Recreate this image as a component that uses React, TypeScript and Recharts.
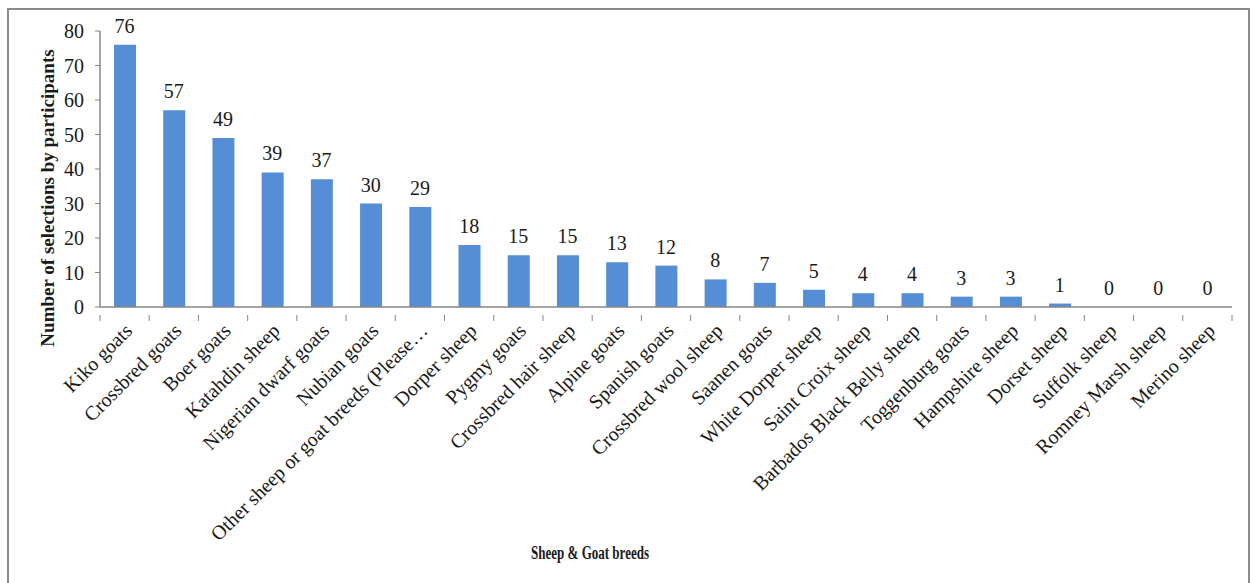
import React from 'react';
import { ComposedChart, Bar, Line, XAxis, YAxis, LabelList, Label } from 'recharts';

const breeds = [
  'Kiko goats',
  'Crossbred goats',
  'Boer goats',
  'Katahdin sheep',
  'Nigerian dwarf goats',
  'Nubian goats',
  'Other sheep or goat breeds (Please…',
  'Dorper sheep',
  'Pygmy goats',
  'Crossbred hair sheep',
  'Alpine goats',
  'Spanish goats',
  'Crossbred wool sheep',
  'Saanen goats',
  'White Dorper sheep',
  'Saint Croix sheep',
  'Barbados Black Belly sheep',
  'Toggenburg goats',
  'Hampshire sheep',
  'Dorset sheep',
  'Suffolk sheep',
  'Romney Marsh sheep',
  'Merino sheep',
];

const selections = [76, 57, 49, 39, 37, 30, 29, 18, 15, 15, 13, 12, 8, 7, 5, 4, 4, 3, 3, 1, 0, 0, 0];

const yTicks = [0, 10, 20, 30, 40, 50, 60, 70, 80];

const data = breeds.map((breed, i) => ({ breed, count: selections[i] }));

const FONT = '"Liberation Serif", "Times New Roman", serif';
const AXIS = '#868686';
const TEXT = '#1a1a1a';

const W = 1256;
const H = 583;
const M = { top: 31, right: 24, left: 40, bottom: 26 };
const Y_AXIS_W = 60;
const X_AXIS_H = 250;
const band = (W - M.left - Y_AXIS_W - M.right) / breeds.length;

// category ticks sit on the band boundaries, labels slant up-left from the centre
const BreedTick = (props: any) => {
  const { x, y, payload, index } = props;
  const left = x - band / 2;
  const isLast = index === breeds.length - 1;
  const tx = x + 4;
  const ty = y + 12;
  return (
    <g>
      <line x1={left} x2={left} y1={y} y2={y + 6} stroke={AXIS} />
      {isLast && <line x1={x + band / 2} x2={x + band / 2} y1={y} y2={y + 6} stroke={AXIS} />}
      <text
        x={tx}
        y={ty}
        textAnchor="end"
        dominantBaseline="central"
        transform={`rotate(-45, ${tx}, ${ty})`}
        fontFamily={FONT}
        fontSize={20}
        fill={TEXT}
      >
        {payload.value}
      </text>
    </g>
  );
};

const App: React.FC = () => {
  return (
    <div
      style={{
        position: 'absolute',
        left: 0,
        top: 0,
        width: W,
        height: H,
        background: '#fff',
        overflow: 'hidden',
        fontFamily: FONT,
      }}
    >
      <div
        style={{
          position: 'absolute',
          left: 7,
          top: 8,
          width: 1243,
          height: 600,
          borderLeft: '2px solid #8c8c8c',
          borderTop: '2px solid #8c8c8c',
          borderRight: '2px solid #8c8c8c',
          boxSizing: 'border-box',
        }}
      />
      <ComposedChart
        width={W}
        height={H}
        data={data}
        margin={M}
        barCategoryGap={0}
        style={{ position: 'absolute', left: 0, top: 0, fontFamily: FONT }}
      >
        <XAxis
          dataKey="breed"
          interval={0}
          height={X_AXIS_H}
          tickLine={false}
          axisLine={{ stroke: AXIS, strokeWidth: 1.5 }}
          tick={<BreedTick />}
        >
          <Label
            content={() => (
              <text
                x={590}
                y={559}
                textAnchor="middle"
                textLength={118}
                lengthAdjust="spacingAndGlyphs"
                fontFamily={FONT}
                fontSize={18}
                fontWeight="bold"
                fill={TEXT}
              >
                Sheep &amp; Goat breeds
              </text>
            )}
          />
        </XAxis>
        <YAxis
          width={Y_AXIS_W}
          domain={[0, 80]}
          ticks={yTicks}
          interval={0}
          tickSize={5}
          tickMargin={11}
          axisLine={{ stroke: AXIS, strokeWidth: 1.5 }}
          tickLine={{ stroke: AXIS }}
          tick={{ fontFamily: FONT, fontSize: 20, fill: TEXT, style: { fontFamily: FONT } }}
        >
          <Label
            content={() => (
              <text
                x={47}
                y={198}
                textAnchor="middle"
                dominantBaseline="central"
                transform="rotate(-90, 47, 198)"
                fontFamily={FONT}
                fontSize={19}
                fontWeight="bold"
                fill={TEXT}
              >
                Number of selections by participants
              </text>
            )}
          />
        </YAxis>
        <Bar dataKey="count" fill="#558ed5" barSize={22} isAnimationActive={false} />
        {/* invisible series carrying the value labels, so zero counts still get one */}
        <Line dataKey="count" stroke="none" dot={false} activeDot={false} isAnimationActive={false}>
          <LabelList
            dataKey="count"
            position="top"
            offset={12}
            fontFamily={FONT}
            fontSize={20}
            fill={TEXT}
            style={{ fontFamily: FONT }}
          />
        </Line>
      </ComposedChart>
    </div>
  );
};

export default App;
